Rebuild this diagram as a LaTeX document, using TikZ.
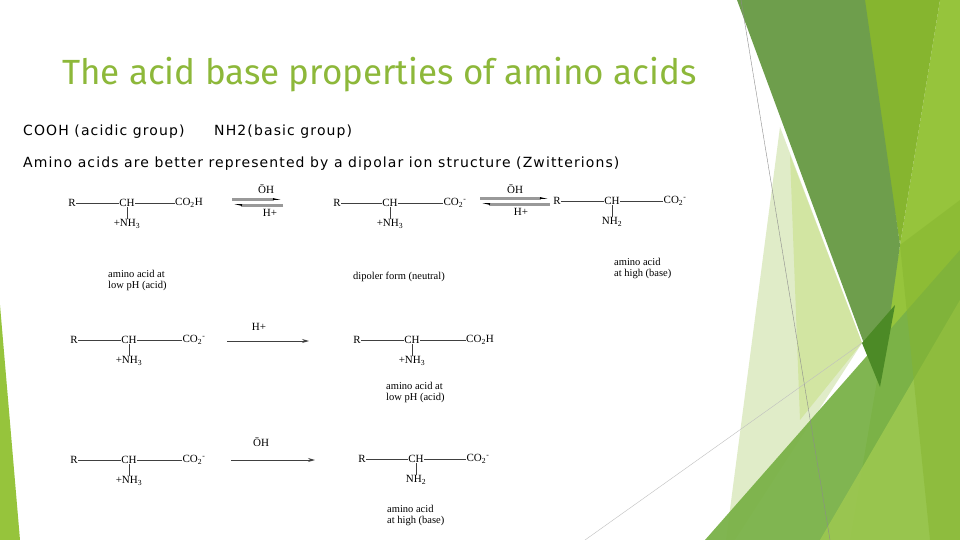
\documentclass[tikz,border=0pt]{standalone}
\usepackage{fontspec}
\setmainfont{Liberation Serif}
\newfontfamily\titlef{Fira Sans}
\newfontfamily\bodyf[LetterSpace=8]{DejaVu Sans}
\usetikzlibrary{arrows.meta}
\definecolor{ttl}{HTML}{8DB83A}
\definecolor{gdark}{HTML}{6E9E4C}
\definecolor{gmid}{HTML}{86B52F}
\definecolor{glight}{HTML}{96C43C}
\definecolor{gbot}{HTML}{7AB248}
\definecolor{gpale}{HTML}{E0ECC8}
\definecolor{gpale2}{HTML}{D2E5A2}
\definecolor{gdeep}{HTML}{4C8A26}
\tikzset{
  x=1pt,y=-1pt,
  ch/.style={inner sep=0.5pt,font=\fontsize{11}{11}\selectfont},
  lab/.style={inner sep=0pt,align=left,font=\fontsize{10.5}{11.5}\selectfont,anchor=north west},
  bond/.style={draw=black!75,line width=0.6pt},
  rxn/.style={draw=black!75,line width=0.9pt,-{Stealth[length=7pt,width=4pt]}},
  eqa/.style={draw=black!40,line width=3pt,-{Stealth[harpoon,length=10pt,width=3.5pt,black]}},
  body/.style={inner sep=0pt,anchor=west,font=\bodyf\fontsize{14}{14}\selectfont},
}
% #1 prefix, #2 x of R, #3 y, #4 R-CH dist, #5 CH-acid dist, #6 acid text, #7 amine text
\newcommand\aamol[7]{%
  \node[ch] (#1R) at (#2,#3) {R};
  \node[ch] (#1C) at ([xshift=#4]#1R.center) {CH};
  \node[ch] (#1A) at ([xshift=#5]#1C.center) {#6};
  \node[ch] (#1N) at ([yshift=-21]#1C.center) {#7};
  \draw[bond] (#1R) -- (#1C);
  \draw[bond] (#1C) -- (#1A);
  \draw[bond] (#1C.south) -- (#1N.north);
}
\newcommand\cooh{CO\textsubscript{2}H}
\newcommand\coo{CO\textsubscript{2}\textsuperscript{-}}
\newcommand\nhthree{+NH\textsubscript{3}}
\newcommand\nhtwo{NH\textsubscript{2}}
\newcommand\ohm{ŌH}
\begin{document}
\begin{tikzpicture}
\useasboundingbox (0,0) rectangle (960,540);
\fill[white] (0,0) rectangle (960,540);
% left sliver
\fill[glight] (0,305) -- (20,540) -- (0,540) -- cycle;
% right decoration
\fill[gpale] (780,127) -- (862,343) -- (735,540) -- (726,540) -- cycle;
\fill[gpale2] (790,155) -- (862,343) -- (800,420) -- cycle;
\fill[glight] (940,0) -- (960,0) -- (960,540) -- (850,540) -- (900,245) -- cycle;
\fill[gmid] (862,0) -- (940,0) -- (900,245) -- cycle;
\fill[gdark] (737,0) -- (865,0) -- (900,245) -- (880,387) -- cycle;
\fill[gbot,opacity=0.95] (705,540) -- (960,250) -- (960,540) -- cycle;
\fill[gdeep] (862,343) -- (895,305) -- (880,387) -- cycle;
\fill[glight!90!white,opacity=0.8] (820,540) -- (960,300) -- (960,540) -- cycle;
\fill[gmid,opacity=0.5] (900,245) -- (960,200) -- (960,540) -- (930,540) -- cycle;
\draw[black!45,line width=0.4pt] (741,0) -- (830,540);
\draw[black!25,line width=0.4pt] (585,540) -- (862,343);
% title and text
\node[inner sep=0pt,anchor=west,text=ttl,font=\titlef\fontsize{35}{35}\selectfont] (title) at (62,75) {The acid base properties of amino acids};
\node[body] (t1) at (23,132) {COOH (acidic group)};
\node[body] (t2) at (214,132) {NH2(basic group)};
\node[body] (t3) at (23,164) {Amino acids are better represented by a dipolar ion structure (Zwitterions)};
% row 1
\aamol{a}{72}{203}{55}{62}{\cooh}{\nhthree}
\coordinate (e1a) at (232,199); \coordinate (e1b) at (283,199);
\draw[eqa] (e1a) -- (e1b);
\draw[eqa] (e1b |- 0,205) -- (e1a |- 0,205);
\node[ch] (oh1) at (266,189) {\ohm};
\node[ch] (h1) at (270,213) {H+};
\aamol{b}{337}{203}{53}{65}{\coo}{\nhthree}
\coordinate (e2a) at (480,198); \coordinate (e2b) at (550,198);
\draw[eqa] (e2a) -- (e2b);
\draw[eqa] (e2b |- 0,204) -- (e2a |- 0,204);
\node[ch] (oh2) at (515,189) {\ohm};
\node[ch] (h2) at (521,212) {H+};
\aamol{c}{557}{201}{55}{63}{\coo}{\nhtwo}
\node[lab] (l1) at (108,270) {amino acid at\\low pH (acid)};
\node[lab] (l2) at (353,272) {dipoler form (neutral)};
\node[lab] (l3) at (614,258) {amino acid\\at high (base)};
% row 2
\aamol{d}{74}{340}{55}{65}{\coo}{\nhthree}
\coordinate (r2a) at (227,341); \coordinate (r2b) at (309,341);
\draw[rxn] (r2a) -- (r2b);
\node[ch] (hp) at (259,327) {H+};
\aamol{e}{357}{340}{55}{68}{\cooh}{\nhthree}
\node[lab] (l4) at (386,382) {amino acid at\\low pH (acid)};
% row 3
\aamol{f}{74}{460}{55}{65}{\coo}{\nhthree}
\coordinate (r3a) at (231,460); \coordinate (r3b) at (315,460);
\draw[rxn] (r3a) -- (r3b);
\node[ch] (om) at (261,442) {\ohm};
\aamol{g}{362}{459}{54}{62}{\coo}{\nhtwo}
\node[lab] (l5) at (387,505) {amino acid\\at high (base)};
\end{tikzpicture}
\end{document}
